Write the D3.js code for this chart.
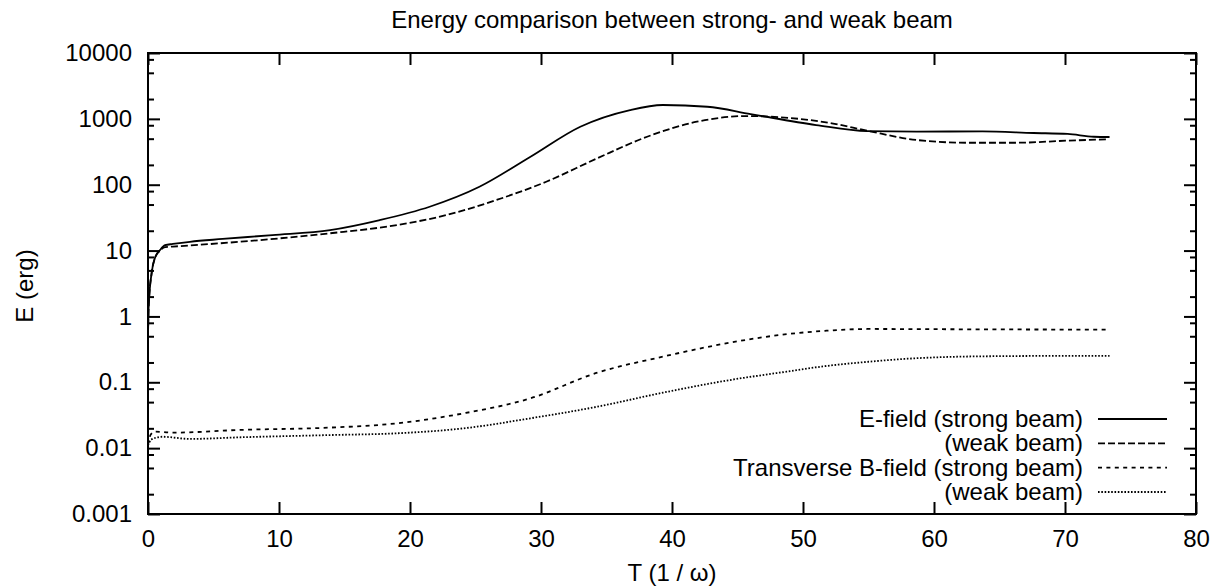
<!DOCTYPE html>
<html>
<head>
<meta charset="utf-8">
<script src="https://cdn.jsdelivr.net/npm/d3@7"></script>
<style>
  html, body { margin: 0; padding: 0; background: #fff; }
  svg { display: block; }
  text { font-family: "Liberation Sans", Arial, Helvetica, sans-serif; fill: #000; }
</style>
</head>
<body>
<svg id="chart" width="1223" height="587"></svg>
<script>
// ---- data ----
const chartTitle = "Energy comparison between strong- and weak beam";
const xLabel = "T (1 / \u03c9)";
const yLabel = "E (erg)";
const xTicks = [0, 10, 20, 30, 40, 50, 60, 70, 80];
const yTicks = [0.001, 0.01, 0.1, 1, 10, 100, 1000, 10000];
const yTickLabels = ["0.001", "0.01", "0.1", "1", "10", "100", "1000", "10000"];
const yMinorFactors = [2, 5, 8];

const seriesNames = ["E-field (strong beam)", "(weak beam)", "Transverse B-field (strong beam)", "(weak beam)"];

const eStrongT = [0, 0.05, 0.28, 0.53, 0.92, 1.3, 1.9, 3.2, 5.7, 9.5, 13.9, 17.7, 21.5, 25.3, 29.2, 33.0, 36.8, 39.3, 42.7, 46.0, 51.0, 54.9, 58.7, 63.7, 67.6, 70.2, 72.2, 73.4];
const eStrongV = [0.5, 1.4, 4.6, 7.7, 10.2, 12.1, 12.6, 13.6, 15.0, 17.2, 20.5, 29.1, 46.3, 93, 266, 760, 1362, 1622, 1528, 1184, 806, 650, 640, 645, 610, 590, 535, 530];

const eWeakT = [0, 0.05, 0.28, 0.53, 0.92, 1.3, 1.9, 7.0, 13.9, 19.0, 22.8, 26.6, 30.4, 34.3, 38.1, 41.9, 45.7, 48.2, 52.2, 54.9, 58.7, 62.5, 66.3, 70.1, 73.3];
const eWeakV = [0.5, 1.4, 4.6, 7.7, 10.0, 11.3, 11.5, 13.6, 18.3, 24.4, 34.7, 58.6, 111, 252, 535, 905, 1104, 1060, 855, 660, 477, 434, 434, 466, 489];

const bStrongT = [0, 0.2, 0.53, 1.9, 7.0, 13.9, 19.0, 24.1, 29.2, 34.3, 39.3, 44.4, 48.2, 51.8, 55.0, 60.0, 65.0, 70.0, 73.4];
const bStrongV = [0.0112, 0.016, 0.0178, 0.0172, 0.0189, 0.0205, 0.0238, 0.0338, 0.0571, 0.140, 0.245, 0.399, 0.522, 0.607, 0.645, 0.64, 0.635, 0.632, 0.63];

const bWeakT = [0, 0.25, 1.1, 3.2, 7.0, 13.9, 19.0, 24.1, 29.2, 34.3, 39.3, 44.4, 48.2, 51.8, 55.0, 58.0, 62.0, 66.0, 70.0, 73.4];
const bWeakV = [0.011, 0.0135, 0.0149, 0.0138, 0.0146, 0.0158, 0.0168, 0.0200, 0.0284, 0.0426, 0.0695, 0.108, 0.140, 0.177, 0.205, 0.228, 0.245, 0.25, 0.252, 0.252];

const seriesT = [eStrongT, eWeakT, bStrongT, bWeakT];
const seriesV = [eStrongV, eWeakV, bStrongV, bWeakV];
const seriesDash = [null, "7,3", "4,4.4", "1.6,1.7"];

// ---- layout ----
const L = 148, R = 1196, T = 53, B = 514;
const FS = 24;
const svg = d3.select("#chart");

const x = d3.scaleLinear().domain([0, 80]).range([L, R]);
const y = d3.scaleLog().domain([0.001, 10000]).range([B, T]);

svg.append("rect").attr("x", L).attr("y", T).attr("width", R - L).attr("height", B - T)
  .attr("fill", "none").attr("stroke", "#000").attr("stroke-width", 2);

const major = 12, minor = 6;
const xAxisB = d3.axisBottom(x).tickValues(xTicks).tickSize(-major).tickFormat(d3.format("d")).tickPadding(16);
const gxb = svg.append("g").attr("transform", `translate(0,${B})`).call(xAxisB);
const xAxisT = d3.axisTop(x).tickValues(xTicks).tickSize(-major).tickFormat("");
const gxt = svg.append("g").attr("transform", `translate(0,${T})`).call(xAxisT);
const yAxisL = d3.axisLeft(y).tickValues(yTicks).tickSize(-major).tickFormat((d, i) => yTickLabels[i]).tickPadding(16);
const gyl = svg.append("g").attr("transform", `translate(${L},0)`).call(yAxisL);
const yAxisR = d3.axisRight(y).tickValues(yTicks).tickSize(-major).tickFormat("");
const gyr = svg.append("g").attr("transform", `translate(${R},0)`).call(yAxisR);
const minors = [];
yTicks.slice(0, -1).forEach(d => yMinorFactors.forEach(f => minors.push(d * f)));
const yMinL = d3.axisLeft(y).tickValues(minors).tickSize(-minor).tickFormat("");
const gml = svg.append("g").attr("transform", `translate(${L},0)`).call(yMinL);
const yMinR = d3.axisRight(y).tickValues(minors).tickSize(-minor).tickFormat("");
const gmr = svg.append("g").attr("transform", `translate(${R},0)`).call(yMinR);

[gxb, gxt, gyl, gyr, gml, gmr].forEach(g => {
  g.select(".domain").remove();
  g.selectAll(".tick line").attr("stroke", "#000").attr("stroke-width", 2);
  g.selectAll(".tick text").attr("font-size", FS).attr("font-family", '"Liberation Sans", Arial, sans-serif').attr("fill", "#000");
});
gxb.selectAll(".tick text").attr("dy", "0.71em");

const line = d3.line().x(d => x(d[0])).y(d => y(d[1])).curve(d3.curveMonotoneX);
svg.append("clipPath").attr("id", "clip").append("rect")
  .attr("x", L).attr("y", T).attr("width", R - L).attr("height", B - T);
seriesT.forEach((ts, i) => {
  const pts = ts.map((t, j) => [t, seriesV[i][j]]);
  svg.append("path").datum(pts).attr("d", line).attr("fill", "none")
    .attr("stroke", "#000").attr("stroke-width", 1.8)
    .attr("stroke-dasharray", seriesDash[i]).attr("clip-path", "url(#clip)");
});

const legRows = [419, 443.3, 467.7, 492];
seriesNames.forEach((name, i) => {
  svg.append("text").attr("x", 1083).attr("y", legRows[i]).attr("dy", "0.34em")
    .attr("text-anchor", "end").attr("font-size", FS).text(name);
  svg.append("line").attr("x1", 1098).attr("x2", 1167).attr("y1", legRows[i]).attr("y2", legRows[i])
    .attr("stroke", "#000").attr("stroke-width", 1.8).attr("stroke-dasharray", seriesDash[i]);
});

svg.append("text").attr("x", (L + R) / 2).attr("y", 28).attr("text-anchor", "middle").attr("font-size", FS).text(chartTitle);
svg.append("text").attr("x", (L + R) / 2).attr("y", 581).attr("text-anchor", "middle").attr("font-size", FS).text(xLabel);
svg.append("text").attr("transform", `translate(33,286) rotate(-90)`).attr("text-anchor", "middle").attr("font-size", FS).text(yLabel);
</script>
</body>
</html>
